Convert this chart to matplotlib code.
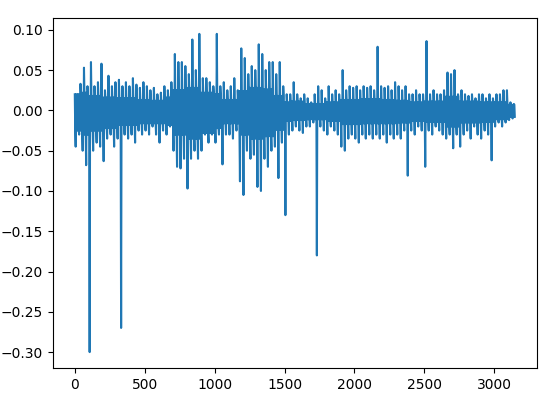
import numpy as np
import matplotlib
matplotlib.use("Agg")
import matplotlib.pyplot as plt

# envelope of the series, read per block of 25 samples:
# highest and lowest value reached inside each block
block = 25
upper = [
    0.010, 0.033, 0.053, 0.030, 0.060, 0.030, 0.035, 0.058,
    0.025, 0.043, 0.030, 0.035, 0.038, 0.030, 0.035, 0.030,
    0.040, 0.032, 0.028, 0.035, 0.030, 0.025, 0.028, 0.020,
    0.022, 0.030, 0.025, 0.035, 0.070, 0.060, 0.060, 0.055,
    0.045, 0.088, 0.050, 0.095, 0.040, 0.040, 0.035, 0.030,
    0.095, 0.030, 0.035, 0.025, 0.030, 0.040, 0.025, 0.077,
    0.065, 0.045, 0.055, 0.050, 0.082, 0.070, 0.050, 0.060,
    0.060, 0.045, 0.060, 0.030, 0.020, 0.020, 0.035, 0.020,
    0.015, 0.020, 0.015, 0.010, 0.020, 0.030, 0.025, 0.015,
    0.030, 0.020, 0.025, 0.020, 0.050, 0.025, 0.030, 0.028,
    0.030, 0.025, 0.030, 0.028, 0.030, 0.025, 0.079, 0.030,
    0.028, 0.030, 0.025, 0.035, 0.030, 0.025, 0.030, 0.020,
    0.020, 0.025, 0.020, 0.020, 0.086, 0.020, 0.025, 0.020,
    0.020, 0.025, 0.047, 0.045, 0.050, 0.020, 0.025, 0.020,
    0.018, 0.020, 0.015, 0.020, 0.020, 0.015, 0.020, 0.015,
    0.020, 0.020, 0.025, 0.025, 0.010, 0.008,
]
lower = [
    -0.045, -0.030, -0.050, -0.068, -0.300, -0.050, -0.040, -0.045,
    -0.063, -0.035, -0.030, -0.045, -0.035, -0.270, -0.030, -0.035,
    -0.030, -0.040, -0.025, -0.030, -0.025, -0.030, -0.020, -0.030,
    -0.040, -0.025, -0.030, -0.020, -0.050, -0.070, -0.072, -0.060,
    -0.097, -0.060, -0.050, -0.060, -0.050, -0.030, -0.040, -0.030,
    -0.040, -0.030, -0.067, -0.030, -0.030, -0.035, -0.025, -0.088,
    -0.105, -0.050, -0.060, -0.055, -0.095, -0.100, -0.060, -0.070,
    -0.050, -0.045, -0.084, -0.040, -0.130, -0.030, -0.025, -0.020,
    -0.025, -0.028, -0.020, -0.020, -0.015, -0.180, -0.020, -0.025,
    -0.030, -0.020, -0.025, -0.030, -0.045, -0.050, -0.035, -0.030,
    -0.035, -0.040, -0.030, -0.035, -0.030, -0.035, -0.030, -0.035,
    -0.030, -0.040, -0.030, -0.035, -0.030, -0.035, -0.025, -0.081,
    -0.025, -0.030, -0.020, -0.025, -0.070, -0.025, -0.030, -0.020,
    -0.025, -0.030, -0.035, -0.030, -0.047, -0.030, -0.045, -0.030,
    -0.025, -0.035, -0.020, -0.030, -0.035, -0.025, -0.030, -0.062,
    -0.020, -0.015, -0.020, -0.015, -0.012, -0.010,
]

# dense core of the band, read per stretch of samples
region_start = [0, 50, 100, 200, 300, 450, 550, 650, 700, 800, 900, 1000,
                1050, 1170, 1250, 1350, 1420, 1480, 1550, 1650, 1800, 1900,
                2050, 2200, 2300, 2400, 2500, 2650, 2750, 2900, 3000, 3100]
core_top = [0.020, 0.022, 0.018, 0.016, 0.015, 0.013, 0.012, 0.016, 0.025, 0.028, 0.022, 0.020,
            0.013, 0.024, 0.028, 0.026, 0.018, 0.010, 0.011, 0.008, 0.010, 0.013,
            0.014, 0.013, 0.012, 0.010, 0.011, 0.017, 0.011, 0.010, 0.010, 0.007]
core_bottom = [-0.025, -0.030, -0.025, -0.022, -0.018, -0.016, -0.016, -0.018, -0.030, -0.035, -0.028, -0.022,
               -0.016, -0.030, -0.035, -0.032, -0.024, -0.013, -0.012, -0.011, -0.013, -0.017,
               -0.016, -0.016, -0.015, -0.013, -0.014, -0.020, -0.015, -0.014, -0.011, -0.008]

xs, ys = [], []
for i in range(len(upper)):
    r = np.searchsorted(region_start, i * block, side="right") - 1
    hi, lo = core_top[r], core_bottom[r]
    # one excursion to each extreme per block, core in between
    vals = [hi, lo, lower[i], hi, lo, upper[i], hi, lo]
    pos = i * block + np.arange(len(vals)) * block / len(vals)
    xs.extend(pos)
    ys.extend(vals)

fig = plt.figure(figsize=(5.5, 4.08), dpi=100)
ax = fig.add_axes([0.096, 0.098, 0.88, 0.858])
ax.plot(xs, ys, color="#1f77b4", linewidth=1.5)

fig.savefig("out.png", dpi=100)
